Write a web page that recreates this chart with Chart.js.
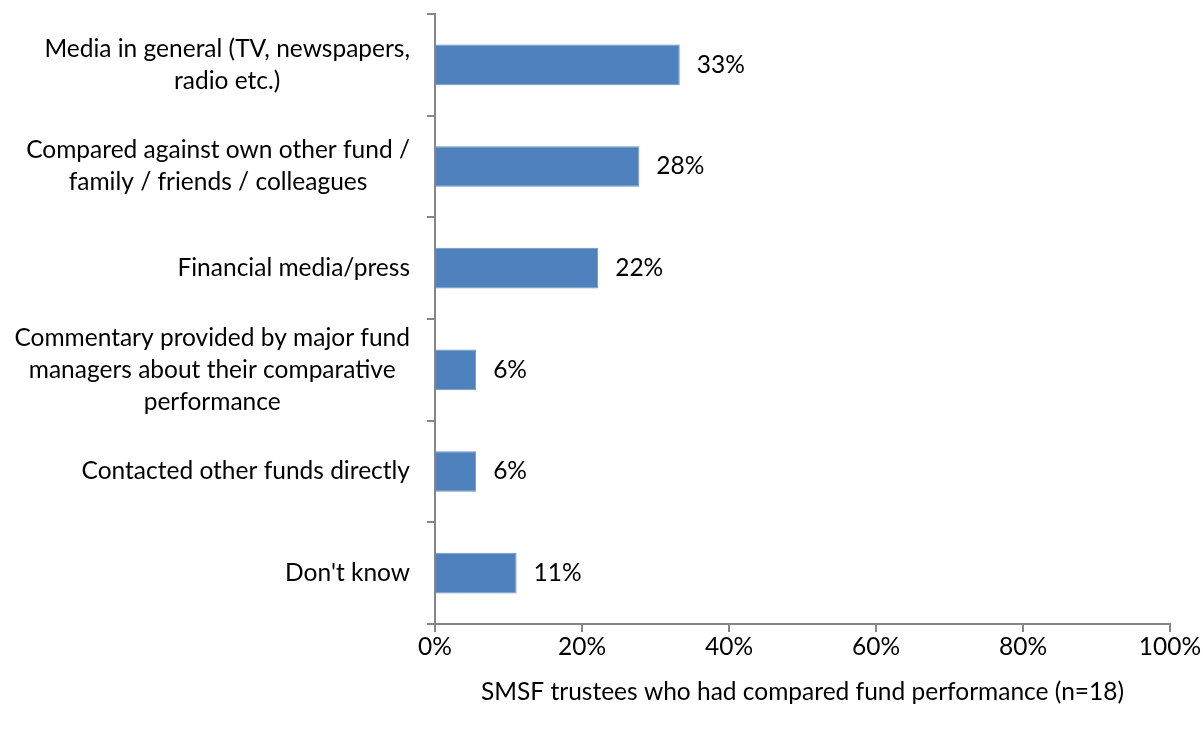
<!DOCTYPE html>
<html>
<head>
<meta charset="utf-8">
<script src="https://cdn.jsdelivr.net/npm/chart.js@4.4.1/dist/chart.umd.min.js"></script>
<style>
  html, body { margin: 0; padding: 0; background: #fff; }
  #wrap { width: 1203px; height: 733px; }
</style>
</head>
<body>
<div id="wrap"><canvas id="myChart" width="1203" height="733"></canvas></div>
<script>
const labels = [
  ['Media in general (TV, newspapers,', 'radio etc.)'],
  ['Compared against own other fund /', 'family / friends / colleagues'],
  ['Financial media/press'],
  ['Commentary provided by major fund', 'managers about their comparative', 'performance'],
  ['Contacted other funds directly'],
  ["Don't know"]
];
const values = [33.3, 27.8, 22.2, 5.6, 5.6, 11.1];
const xTicks = [0, 20, 40, 60, 80, 100];
const xTitle = 'SMSF trustees who had compared fund performance (n=18)';

const FONT = 'Lato, "Liberation Sans", sans-serif';
const FSIZE = 24.5;
const axisGrey = '#868686';

// draws the category labels: each block centred on itself, right-aligned to the axis
const yLabels = {
  id: 'yLabels',
  afterDraw(chart) {
    const c = chart.ctx;
    const y = chart.scales.y;
    c.save();
    c.font = FSIZE + 'px ' + FONT;
    c.fillStyle = '#000';
    c.textBaseline = 'middle';
    c.textAlign = 'center';
    const lh = 32;
    labels.forEach((lines, i) => {
      const cy = y.getPixelForValue(i);
      const w = Math.max(...lines.map(l => c.measureText(l).width));
      const cx = y.right - 25 - w / 2;
      lines.forEach((l, j) => {
        c.fillText(l, cx, cy + (j - (lines.length - 1) / 2) * lh);
      });
    });
    c.restore();
  }
};

// value labels after the bars
const valueLabels = {
  id: 'valueLabels',
  afterDatasetsDraw(chart) {
    const c = chart.ctx;
    c.save();
    c.font = FSIZE + 'px ' + FONT;
    c.fillStyle = '#000';
    c.textBaseline = 'middle';
    c.textAlign = 'left';
    chart.getDatasetMeta(0).data.forEach((bar, i) => {
      c.fillText(Math.round(values[i]) + '%', bar.x + 17, bar.y);
    });
    c.restore();
  }
};

const ctx = document.getElementById('myChart').getContext('2d');
const myChart = new Chart(ctx, {
  type: 'bar',
  data: {
    labels: labels.map((l, i) => i),
    datasets: [{
      data: values,
      backgroundColor: '#4F81BD',
      borderColor: '#6B95C8',
      borderWidth: 1,
      barPercentage: 0.4,
      categoryPercentage: 1
    }]
  },
  options: {
    indexAxis: 'y',
    responsive: false,
    animation: false,
    layout: { padding: { top: 14, right: 33, bottom: 0, left: 0 } },
    plugins: {
      legend: { display: false },
      tooltip: { enabled: false }
    },
    scales: {
      x: {
        min: 0,
        max: 100,
        afterBuildTicks: (s) => { s.ticks = xTicks.map(v => ({ value: v })); },
        afterFit: (s) => { s.height = 109; },
        ticks: {
          color: '#000',
          font: { family: FONT, size: FSIZE },
          padding: 0,
          callback: (v) => v + '%'
        },
        grid: { drawOnChartArea: false, drawTicks: true, tickLength: 8, color: axisGrey, lineWidth: 2 },
        border: { color: axisGrey, width: 2 },
        title: {
          display: true,
          text: xTitle,
          color: '#000',
          font: { family: FONT, size: FSIZE },
          padding: { top: 0, bottom: 26 }
        }
      },
      y: {
        afterFit: (s) => { s.width = 435; },
        ticks: { display: false },
        grid: { offset: true, drawOnChartArea: false, drawTicks: true, tickLength: 8, color: axisGrey, lineWidth: 2 },
        border: { color: axisGrey, width: 2 }
      }
    }
  },
  plugins: [yLabels, valueLabels]
});
</script>
</body>
</html>
